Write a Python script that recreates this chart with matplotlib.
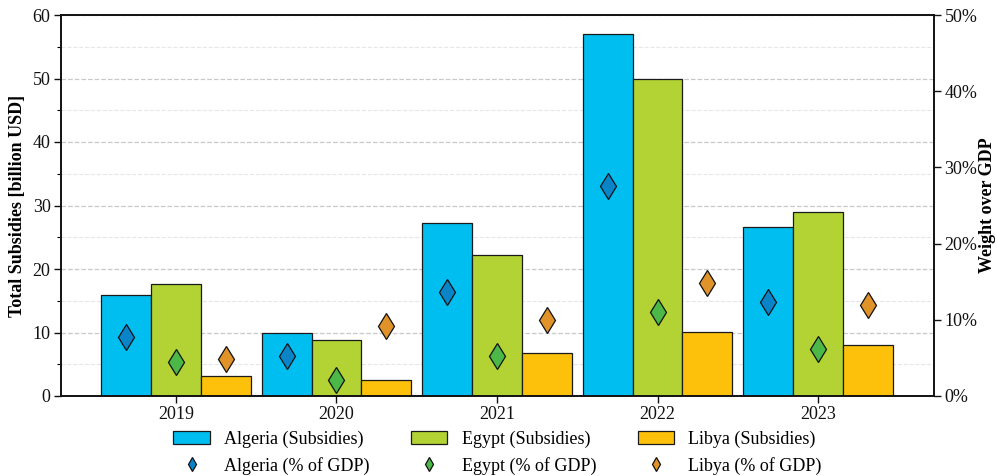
import numpy as np
import matplotlib
matplotlib.use("Agg")
import matplotlib.pyplot as plt
from matplotlib.ticker import MultipleLocator, FuncFormatter

plt.rcParams['font.family'] = ['Liberation Serif', 'DejaVu Serif']
plt.rcParams['font.size'] = 13

years = ['2019', '2020', '2021', '2022', '2023']
countries = ['Algeria', 'Egypt', 'Libya']

# Total subsidies, billion USD
subsidies_algeria = [15.9, 9.9, 27.3, 57.0, 26.6]
subsidies_egypt = [17.7, 8.8, 22.2, 50.0, 29.0]
subsidies_libya = [3.1, 2.5, 6.8, 10.1, 8.0]

# Subsidies as share of GDP, percent
gdp_share_algeria = [7.8, 5.2, 13.7, 27.6, 12.4]
gdp_share_egypt = [4.5, 2.1, 5.3, 11.0, 6.2]
gdp_share_libya = [4.9, 9.2, 10.0, 14.8, 11.9]

bar_colors = ['#00bff0', '#b3d334', '#fdc10c']
marker_colors = ['#0a84c9', '#4cb848', '#df9329']

subsidies = [subsidies_algeria, subsidies_egypt, subsidies_libya]
shares = [gdp_share_algeria, gdp_share_egypt, gdp_share_libya]

fig = plt.figure(figsize=(9.97, 4.76), dpi=100)
ax = fig.add_axes([61 / 997, 1 - 396 / 476, (934 - 61) / 997, (396 - 15) / 476])
ax2 = ax.twinx()

x = np.arange(len(years))
width = 0.31
offsets = [-width, 0.0, width]

handles = []
for i, name in enumerate(countries):
    b = ax.bar(x + offsets[i], subsidies[i], width, color=bar_colors[i],
               edgecolor='#1a1a1a', linewidth=0.9, zorder=2,
               label=f'{name} (Subsidies)')
    m, = ax2.plot(x + offsets[i], shares[i], linestyle='none', marker='d',
                  markersize=13, markerfacecolor=marker_colors[i],
                  markeredgecolor='#111111', markeredgewidth=0.9, zorder=3,
                  label=f'{name} (% of GDP)')
    handles.extend([b, m])

ax.set_xlim(-0.716, 4.722)
ax.set_ylim(0, 60)
ax2.set_ylim(0, 50)

ax.set_xticks(x)
ax.set_xticklabels(years)
ax.yaxis.set_major_locator(MultipleLocator(10))
ax.yaxis.set_minor_locator(MultipleLocator(5))
ax2.yaxis.set_major_locator(MultipleLocator(10))
ax2.yaxis.set_major_formatter(FuncFormatter(lambda v, p: f'{v:.0f}%'))

ax.set_axisbelow(True)
ax.grid(axis='y', which='major', linestyle='--', color='#c8c8c8', linewidth=0.9)
ax.grid(axis='y', which='minor', linestyle='--', color='#e6e6e6', linewidth=0.8)

for a in (ax, ax2):
    a.tick_params(axis='both', which='major', direction='out', length=5,
                  width=1.0, labelsize=13, colors='#111111', pad=2.5)
    a.tick_params(axis='both', which='minor', direction='out', length=3, width=0.8)
    for s in a.spines.values():
        s.set_linewidth(1.2)
        s.set_color('#111111')

ax.set_ylabel('Total Subsidies [billion USD]', fontsize=13, fontweight='bold', labelpad=5)
ax2.set_ylabel('Weight over GDP', fontsize=13, fontweight='bold', labelpad=1)

ax.set_zorder(ax2.get_zorder() - 1)
ax.patch.set_visible(True)
ax2.patch.set_visible(False)

ax.legend(handles=handles, labels=[h.get_label() for h in handles],
          loc='upper center', bbox_to_anchor=(0.5, -0.048), ncol=3,
          frameon=False, fontsize=13, markerscale=0.55,
          handlelength=2.0, columnspacing=2.3)

fig.savefig('out.png', dpi=100)
